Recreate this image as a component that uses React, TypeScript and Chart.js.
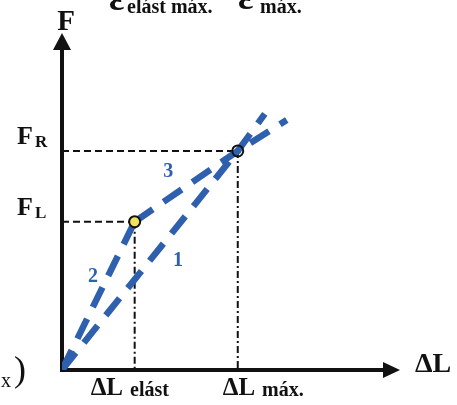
import React, { useEffect, useRef } from "react";
import { Chart, registerables } from "chart.js";

Chart.register(...registerables);

// ---- data (arbitrary units: ΔL on x, F on y) ----
const line1X = [0, 5.2, 6.0];
const line1Y = [0, 6.5, 7.6];
const line2X = [0, 2.15];
const line2Y = [0, 4.4];
const line3X = [2.15, 5.2, 6.65];
const line3Y = [4.4, 6.5, 7.42];
const keyPointX = [2.15, 5.2];
const keyPointY = [4.4, 6.5];
const yTickMain = ["F", "F"];
const yTickSub = ["L", "R"];
const xTickMain = ["ΔL", "ΔL"];
const xTickSub = ["elást", "máx."];
const lineNames = ["1", "2", "3"];
const lineNameX = [3.43, 0.92, 3.14];
const lineNameY = [3.23, 2.76, 5.88];

const BLUE = "#2f60ad";
const SERIF = "'Liberation Serif', 'DejaVu Serif', serif";
const X_LABEL_SHIFT = [-44, -15];

const pts = (xs: number[], ys: number[]) => xs.map((x, i) => ({ x, y: ys[i] }));

const drawPlugin = {
  id: "diagram",
  beforeDatasetsDraw(chart: any) {
    const { ctx, chartArea, scales } = chart;
    const { left, top, right, bottom } = chartArea;
    const xs = scales.x;
    const ys = scales.y;
    ctx.save();
    // reference lines
    ctx.strokeStyle = "#111";
    ctx.lineWidth = 2;
    for (let i = 0; i < keyPointX.length; i++) {
      const px = xs.getPixelForValue(keyPointX[i]);
      const py = ys.getPixelForValue(keyPointY[i]);
      ctx.setLineDash([7, 4]);
      ctx.beginPath();
      ctx.moveTo(left, py);
      ctx.lineTo(px, py);
      ctx.stroke();
      ctx.setLineDash([7, 3, 2, 3]);
      ctx.beginPath();
      ctx.moveTo(px, py);
      ctx.lineTo(px, bottom);
      ctx.stroke();
    }
    ctx.setLineDash([]);
    // axes
    ctx.fillStyle = "#111";
    ctx.lineWidth = 4;
    ctx.beginPath();
    ctx.moveTo(left, bottom + 2);
    ctx.lineTo(left, top + 14);
    ctx.stroke();
    ctx.beginPath();
    ctx.moveTo(left, top);
    ctx.lineTo(left - 9, top + 17);
    ctx.lineTo(left + 9, top + 17);
    ctx.closePath();
    ctx.fill();
    ctx.beginPath();
    ctx.moveTo(left - 2, bottom);
    ctx.lineTo(right - 14, bottom);
    ctx.stroke();
    ctx.beginPath();
    ctx.moveTo(right, bottom);
    ctx.lineTo(right - 17, bottom - 8);
    ctx.lineTo(right - 17, bottom + 8);
    ctx.closePath();
    ctx.fill();
    ctx.restore();
  },
  afterDatasetsDraw(chart: any) {
    const { ctx, chartArea, scales } = chart;
    const { left, top, right, bottom } = chartArea;
    const xs = scales.x;
    const ys = scales.y;
    ctx.save();
    ctx.fillStyle = "#111";
    ctx.textBaseline = "alphabetic";
    // axis titles
    ctx.textAlign = "center";
    ctx.font = `bold 29px ${SERIF}`;
    ctx.fillText("F", left + 4, top - 3);
    ctx.textAlign = "left";
    ctx.font = `bold 28px ${SERIF}`;
    ctx.fillText("ΔL", right + 15, bottom + 2);
    // y tick labels
    for (let i = 0; i < yTickMain.length; i++) {
      const py = ys.getPixelForValue(keyPointY[i]);
      ctx.font = `bold 26px ${SERIF}`;
      ctx.textAlign = "left";
      ctx.fillText(yTickMain[i], 17, py - 7);
      ctx.font = `bold 17px ${SERIF}`;
      ctx.fillText(yTickSub[i], 35, py - 4);
    }
    // x tick labels
    for (let i = 0; i < xTickMain.length; i++) {
      const px = xs.getPixelForValue(keyPointX[i]);
      ctx.textAlign = "left";
      ctx.font = `bold 25px ${SERIF}`;
      const w = ctx.measureText(xTickMain[i]).width;
      const start = px + X_LABEL_SHIFT[i];
      ctx.fillText(xTickMain[i], start, bottom + 25);
      ctx.font = `bold 20px ${SERIF}`;
      ctx.fillText(xTickSub[i], start + w + 7, bottom + 26);
    }
    // line names
    ctx.fillStyle = BLUE;
    ctx.textAlign = "center";
    ctx.textBaseline = "middle";
    ctx.font = `bold 20px ${SERIF}`;
    for (let i = 0; i < lineNames.length; i++) {
      ctx.fillText(lineNames[i], xs.getPixelForValue(lineNameX[i]), ys.getPixelForValue(lineNameY[i]));
    }
    // top cut-off text
    ctx.fillStyle = "#111";
    ctx.textAlign = "left";
    ctx.textBaseline = "alphabetic";
    ctx.font = `bold 36px ${SERIF}`;
    ctx.fillText("ε", 109, 10);
    ctx.fillText("ε", 238, 9);
    ctx.font = `bold 20px ${SERIF}`;
    ctx.fillText("elást máx.", 127, 13);
    ctx.fillText("máx.", 260, 13);
    // bottom-left cut-off text
    ctx.font = `20px ${SERIF}`;
    ctx.fillText("x", 1, 387);
    ctx.font = `36px ${SERIF}`;
    ctx.fillText(")", 14, 381);
    ctx.restore();
  },
};

export default function App() {
  const ref = useRef<HTMLCanvasElement | null>(null);
  useEffect(() => {
    document.body.style.margin = "0";
    const chart = new Chart(ref.current as HTMLCanvasElement, {
      type: "scatter",
      data: {
        datasets: [
          {
            data: pts(keyPointX, keyPointY),
            showLine: false,
            pointRadius: 5.5,
            pointBackgroundColor: ["#f1e25a", "rgba(0,0,0,0)"],
            pointBorderColor: "#111",
            pointBorderWidth: 2,
          },
          {
            data: pts(line1X, line1Y),
            showLine: true,
            borderColor: BLUE,
            borderWidth: 6.5,
            borderDash: [22, 13],
            borderCapStyle: "butt",
            pointRadius: 0,
          },
          {
            data: pts(line2X, line2Y),
            showLine: true,
            borderColor: BLUE,
            borderWidth: 6.5,
            borderDash: [22, 13],
            borderCapStyle: "butt",
            pointRadius: 0,
          },
          {
            data: pts(line3X, line3Y),
            showLine: true,
            borderColor: BLUE,
            borderWidth: 6.5,
            borderDash: [22, 13],
            borderCapStyle: "butt",
            pointRadius: 0,
          },
        ] as any,
      },
      options: {
        animation: false,
        responsive: false,
        maintainAspectRatio: false,
        devicePixelRatio: 1,
        layout: { padding: { left: 62, top: 33, right: 57, bottom: 35 } },
        plugins: { legend: { display: false }, tooltip: { enabled: false } },
        scales: {
          x: { type: "linear", min: 0, max: 10, display: false },
          y: { type: "linear", min: 0, max: 10, display: false },
        },
      },
      plugins: [drawPlugin],
    });
    return () => chart.destroy();
  }, []);
  return (
    <div style={{ width: 457, height: 405, background: "#fff" }}>
      <canvas ref={ref} width={457} height={405} style={{ display: "block" }} />
    </div>
  );
}
